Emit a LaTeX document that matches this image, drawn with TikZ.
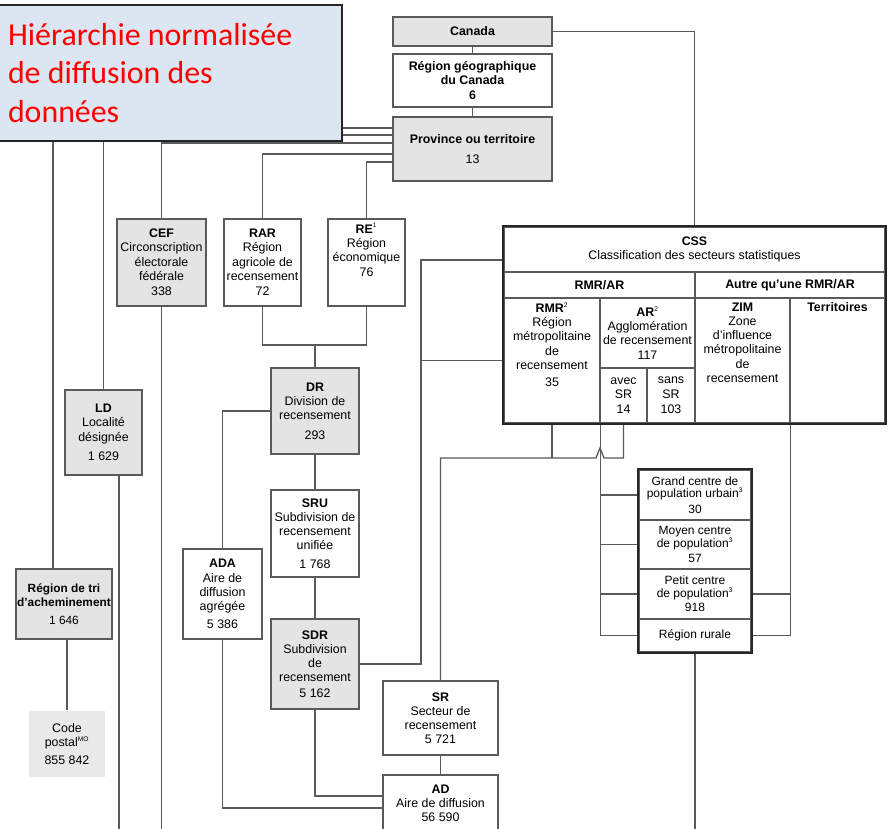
\documentclass[tikz,border=0pt]{standalone}
\usepackage{fontspec}
\setmainfont{Liberation Sans}
\newfontfamily\titlefont{Carlito}
\usepackage{tikz}
\usetikzlibrary{positioning}
\pgfdeclarelayer{background}
\pgfdeclarelayer{foreground}
\pgfsetlayers{background,main,foreground}
\definecolor{titlefill}{HTML}{DCE6F2}
\definecolor{boxgray}{HTML}{E4E4E4}
\definecolor{linegray}{HTML}{5A5A5A}
\newcommand{\fnmark}[1]{\textsuperscript{\fontsize{5}{5}\selectfont #1}}

\begin{document}
\begin{tikzpicture}[x=0.75pt,y=-0.75pt,
		box/.style={draw=linegray, line width=1pt, align=center, inner sep=1pt, font=\fontsize{9.3}{10.6}\selectfont},
		gbox/.style={box, fill=boxgray},
		bold/.style={font=\fontsize{9.3}{10.6}\selectfont\bfseries},
		txt/.style={align=center, inner sep=1pt, font=\fontsize{9.3}{10.6}\selectfont},
		popcell/.style={box, minimum width=84pt, font=\fontsize{9}{9.6}\selectfont},
		conn/.style={draw=linegray, line width=1pt},
		heavy/.style={draw=black!85, line width=1.7pt}]
					\useasboundingbox (0,0) rectangle (888,828);

					%Nodes
					\node[gbox, bold, minimum width=119.25pt, minimum height=21.75pt] (canada) at (472.5,31.5) {Canada};
					\node[box, bold, minimum width=119.25pt, minimum height=39.75pt] (geo) at (472.5,80.5) {Région géographique\\du Canada\\6};
					\node[gbox, minimum width=119.25pt, minimum height=48pt] (prov) at (472.5,149) {\textbf{Province ou territoire}\\[5pt]13};

					\node[gbox, minimum width=66.75pt, minimum height=65.25pt] (cef) at (161.5,262.5) {\textbf{CEF}\\Circonscription\\électorale\\fédérale\\[1pt]338};
					\node[box, minimum width=57.75pt, minimum height=65.25pt] (rar) at (262.5,262.5) {\textbf{RAR}\\Région\\agricole de\\recensement\\[1pt]72};
					\node[box, minimum width=57.75pt, minimum height=65.25pt] (re) at (366.5,262.5) {\textbf{RE}\fnmark{1}\\Région\\économique\\[1pt]76\\[8pt]};

					\node[gbox, minimum width=57.75pt, minimum height=63.75pt] (ld) at (103.5,432.5) {\textbf{LD}\\Localité\\désignée\\[4pt]1 629};
					\node[gbox, minimum width=72pt, minimum height=52.5pt, font=\fontsize{8.9}{11}\selectfont] (rta) at (64,604) {\textbf{Région de tri}\\\textbf{d'acheminement}\\[2pt]1 646};
					\node[box, draw=none, fill=boxgray!80, minimum width=57pt, minimum height=49.5pt] (cp) at (67,744) {Code\\postal\fnmark{MO}\\[3pt]855 842};

					\node[gbox, minimum width=66pt, minimum height=64.5pt] (dr) at (315,411) {\textbf{DR}\\Division de\\recensement\\[4pt]293};
					\node[box, minimum width=66pt, minimum height=65.25pt] (sru) at (315,533.5) {\textbf{SRU}\\Subdivision de\\recensement\\unifiée\\[3pt]1 768};
					\node[gbox, minimum width=66pt, minimum height=67.5pt] (sdr) at (315,664) {\textbf{SDR}\\Subdivision\\de\\recensement\\[1pt]5 162};
					\node[box, minimum width=59.25pt, minimum height=67.5pt] (ada) at (222.5,594) {\textbf{ADA}\\Aire de\\diffusion\\agrégée\\[3pt]5 386};

					\node[box, minimum width=86.25pt, minimum height=55.5pt] (sr) at (440.5,718) {\textbf{SR}\\Secteur de\\recensement\\5 721};
					\node[box, minimum width=86.25pt, minimum height=42pt] (ad) at (440.5,803) {\textbf{AD}\\Aire de diffusion\\56 590};

					% CSS table
					\node[box, minimum width=285.75pt, minimum height=33.75pt] (css) at (694.5,249.5) {\textbf{CSS}\\Classification des secteurs statistiques};
					\node[box, bold, minimum width=143.25pt, minimum height=19.5pt] (rmrar) at (599.5,285) {RMR/AR};
					\node[box, bold, minimum width=142.5pt, minimum height=19.5pt] (autre) at (790,285) {Autre qu'une RMR/AR};
					\node[box, minimum width=72pt, minimum height=93.75pt] (rmr) at (552,360.5) {};
					\node[box, minimum width=71.25pt, minimum height=52.5pt] (ar) at (647.5,333) {\textbf{AR}\fnmark{2}\\Agglomération\\de recensement\\117};
					\node[box, minimum width=35.25pt, minimum height=41.25pt] (avec) at (623.5,395.5) {avec\\SR\\[1pt]14};
					\node[box, minimum width=36pt, minimum height=41.25pt] (sans) at (671,395.5) {sans\\SR\\[1pt]103};
					\node[box, minimum width=71.25pt, minimum height=93.75pt] (zim) at (742.5,360.5) {};
					\node[box, minimum width=71.25pt, minimum height=93.75pt] (terr) at (837.5,360.5) {};
					\node[txt, below=3pt of rmr.north] (rmrtxt) {\textbf{RMR}\fnmark{2}\\Région\\métropolitaine\\de\\recensement\\[2pt]35};
					\node[txt, below=3pt of zim.north] (zimtxt) {\textbf{ZIM}\\Zone\\d'influence\\métropolitaine\\de\\recensement};
					\node[txt, below=3pt of terr.north] (terrtxt) {\textbf{Territoires}};
					\draw[heavy] (css.north west) rectangle (terr.south east);

					% centres de population
					\node[popcell, minimum height=37.5pt] (pg) at (695,495) {Grand centre de\\population urbain\fnmark{3}\\[2pt]30};
					\node[popcell, minimum height=36.75pt] (pm) at (695,544.5) {Moyen centre\\de population\fnmark{3}\\[2pt]57};
					\node[popcell, minimum height=37.5pt] (pp) at (695,594) {Petit centre\\de population\fnmark{3}\\[1pt]918};
					\node[popcell, minimum height=24.75pt] (pr) at (695,635.5) {Région rurale};
					\draw[heavy] (pg.north west) rectangle (pr.south east);

					\coordinate (pa) at (393,128);
					\coordinate (pb) at (393,135);
					\coordinate (pc) at (393,143);
					\coordinate (pd) at (393,154);
					\coordinate (pe) at (393,162);
					\coordinate (rtain) at (53,569);
					\coordinate (ldout) at (119,475);
					\coordinate (jdr) at (315,345);
					\coordinate (busl) at (421,260);
					\coordinate (hop) at (600,458);
					\coordinate (ad1) at (383,796);
					\coordinate (ad2) at (383,808);
					\coordinate (bot) at (0,840);

					%Lines
					\begin{pgfonlayer}{background}
					\draw[conn] (canada) -- (geo);
					\draw[conn] (geo) -- (prov);
					\draw[conn] (canada.east) -| (css.north);
					\draw[conn] (pa) -| (rtain);
					\draw[conn] (pb) -| (ld.north);
					\draw[conn] (pc) -| (cef.north);
					\draw[conn] (pd) -| (rar.north);
					\draw[conn] (pe) -| (re.north);
					\draw[conn] (cef.south) -- (cef.south |- bot);
					\draw[conn] (ldout) -- (ldout |- bot);
					\draw[conn] (cp.north) -- (cp.north |- rta.south);
					\draw[conn] (rar.south) |- (jdr) -| (re.south);
					\draw[conn] (jdr) -- (dr.north);
					\draw[conn] (dr.west) -| (ada.north);
					\draw[conn] (dr) -- (sru);
					\draw[conn] (sru) -- (sdr);
					\draw[conn] (sdr.south) |- (ad1);
					\draw[conn] (ada.south) |- (ad2);
					\draw[conn] (sdr.east) -| (busl) -- (busl -| css.west);
					\draw[conn] (rmr.west) -- (rmr.west -| busl);
					\draw[conn] (sr.north) |- ([xshift=-3pt]hop) -- ([yshift=7.5pt]hop) -- ([xshift=3pt]hop) -| (avec.south);
					\draw[conn] (rmr.south) -- (rmr.south |- hop);
					\draw[conn] (sr) -- (ad);
					\draw[conn] (rmr.south east) |- (pr.west);
					\foreach \c in {pg,pm,pp}
						\draw[conn] (\c.west) -- (\c.west -| rmr.south east);
					\draw[conn] (zim.south east) |- (pr.east);
					\draw[conn] (pp.east) -- (pp.east -| zim.south east);
					\draw[conn] (pr.south) -- (pr.south |- bot);
					\end{pgfonlayer}

					% titre
					\begin{pgfonlayer}{foreground}
					\node[draw=black!85, line width=1.2pt, fill=titlefill, text=red, text width=243pt, inner xsep=7.5pt, minimum height=102pt, align=flush left, font=\titlefont\fontsize{23.9}{29.2}\selectfont] (title) at (170,73) {Hiérarchie normalisée\\de diffusion des\\données};
					\end{pgfonlayer}

				\end{tikzpicture}
\end{document}
